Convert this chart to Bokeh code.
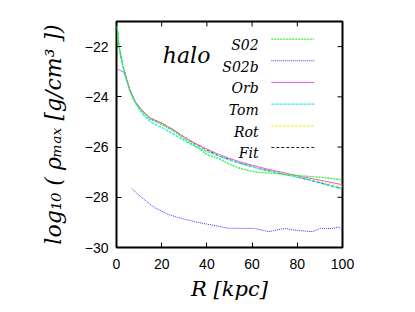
from bokeh.plotting import figure
from bokeh.models import FixedTicker, Label
from bokeh.embed import file_html
from bokeh.resources import INLINE

# ---------------- data ----------------
r_main = [0.3, 1, 2, 3, 4, 6, 8, 10, 12, 15, 20, 25, 30, 35, 40, 45, 50, 55, 60,
          65, 70, 75, 80, 85, 90, 95, 100]
fit_vals = [-21.2, -21.9, -22.4, -22.8, -23.15, -23.75, -24.15, -24.4, -24.6, -24.85,
            -25.05, -25.3, -25.62, -25.88, -26.12, -26.33, -26.5, -26.65, -26.78,
            -26.9, -27.0, -27.1, -27.2, -27.3, -27.42, -27.55, -27.67]
s02_vals = [-21.25, -21.95, -22.45, -22.85, -23.2, -23.8, -24.2, -24.45, -24.65, -24.9,
            -25.1, -25.35, -25.68, -25.95, -26.3, -26.45, -26.68, -26.86, -26.97,
            -27.02, -27.05, -27.1, -27.13, -27.17, -27.2, -27.25, -27.3]
tom_vals = [-21.2, -21.9, -22.4, -22.8, -23.15, -23.75, -24.15, -24.5, -24.72, -25.0,
            -25.22, -25.47, -25.75, -25.98, -26.18, -26.36, -26.52, -26.66, -26.79,
            -26.9, -27.0, -27.1, -27.2, -27.31, -27.42, -27.54, -27.66]
rot_vals = [-21.2, -21.9, -22.4, -22.8, -23.15, -23.75, -24.15, -24.4, -24.6, -24.85,
            -25.05, -25.3, -25.6, -25.86, -26.1, -26.31, -26.48, -26.63, -26.76,
            -26.88, -26.98, -27.08, -27.18, -27.28, -27.38, -27.48, -27.58]
r_orb = [0.7, 1.5, 3, 4, 6, 8, 10, 12, 15, 20, 25, 30, 35, 40, 45, 50, 55, 60,
         65, 70, 75, 80, 85, 90, 95, 100]
orb_vals = [-22.9, -22.95, -23.0, -23.17, -23.75, -24.15, -24.4, -24.6, -24.85,
            -25.05, -25.3, -25.6, -25.86, -26.08, -26.28, -26.45, -26.6, -26.72,
            -26.84, -26.94, -27.04, -27.14, -27.23, -27.32, -27.41, -27.5]
r_s02b = [6.8, 9, 13, 17, 22.5, 27, 31.4, 36, 40, 45, 49, 55, 60.7, 64, 67.4, 71,
          74.8, 78, 81.5, 84, 86.7, 90.4, 93, 96.3, 98.3, 100]
s02b_vals = [-27.65, -27.85, -28.14, -28.42, -28.67, -28.8, -28.9, -29.0, -29.07,
             -29.15, -29.23, -29.24, -29.24, -29.3, -29.37, -29.3, -29.24, -29.3,
             -29.33, -29.35, -29.37, -29.23, -29.25, -29.23, -29.18, -29.33]

x_ticks = [0, 20, 40, 60, 80, 100]
y_ticks = [-30, -28, -26, -24, -22]
legend_labels = ["S02", "S02b", "Orb", "Tom", "Rot", "Fit"]

# ---------------- styles ----------------
styles = {
    "S02": dict(color="#33ee33", dash="2 1", width=1.3),
    "S02b": dict(color="#3333ff", dash="1 1", width=1.0),
    "Orb": dict(color="#ee55ee", dash="solid", width=1.0),
    "Tom": dict(color="#22eeee", dash="3 1", width=1.3),
    "Rot": dict(color="#eeee00", dash="2 2", width=1.2),
    "Fit": dict(color="#222222", dash="3 2", width=1.0),
}
series = {
    "S02": (r_main, s02_vals),
    "S02b": (r_s02b, s02b_vals),
    "Orb": (r_orb, orb_vals),
    "Tom": (r_main, tom_vals),
    "Rot": (r_main, rot_vals),
    "Fit": (r_main, fit_vals),
}

serif = "DejaVu Serif"
sans = "Liberation Sans"

X0, X1, Y0, Y1 = 0, 100, -30, -21
FW, FH = 226, 226
p = figure(frame_width=FW, frame_height=FH, x_range=(X0, X1), y_range=(Y0, Y1),
           output_backend="svg", toolbar_location=None,
           min_border_left=116, min_border_right=57,
           min_border_top=21, min_border_bottom=56)
p.grid.visible = False
p.background_fill_color = "white"
p.border_fill_color = "white"
p.outline_line_color = "black"
p.outline_line_width = 2

for ax in (p.xaxis[0], p.yaxis[0]):
    ax.axis_line_color = None
    ax.major_tick_in = 5
    ax.major_tick_out = 0
    ax.minor_tick_line_color = None
    ax.major_label_text_font = sans
    ax.major_label_text_font_size = "14px"
    ax.major_label_text_color = "black"
    ax.axis_label_text_font = serif
    ax.axis_label_text_font_style = "italic"
    ax.axis_label_text_font_size = "21px"
    ax.axis_label_text_color = "black"

p.yaxis.axis_label_text_font_size = "22px"
p.xaxis.ticker = FixedTicker(ticks=x_ticks)
p.yaxis.ticker = FixedTicker(ticks=y_ticks)
p.xaxis.major_label_standoff = 11
p.yaxis.major_label_standoff = 8
p.xaxis.axis_label = "R [kpc]"
p.xaxis.axis_label_standoff = 5
p.yaxis.axis_label = "log\u2081\u2080 ( \u03c1\u2098\u2090\u2093 [g/cm\u00b3 ])"
p.yaxis.axis_label_standoff = 16

# mirrored inward ticks on the top and right edges (5 px long)
tick_dx = 5 * (X1 - X0) / FW
tick_dy = 5 * (Y1 - Y0) / FH
p.segment(x0=x_ticks, y0=[Y1] * len(x_ticks), x1=x_ticks,
          y1=[Y1 - tick_dy] * len(x_ticks), line_color="black", line_width=1)
p.segment(x0=[X1] * len(y_ticks), y0=y_ticks, x1=[X1 - tick_dx] * len(y_ticks),
          y1=y_ticks, line_color="black", line_width=1)

# curves
for name in ["Fit", "Rot", "Tom", "Orb", "S02b", "S02"]:
    xs, ys = series[name]
    st = styles[name]
    p.line(xs, ys, line_color=st["color"], line_dash=st["dash"], line_width=st["width"])

# "halo" label
p.add_layout(Label(x=20.5, y=-22.37, text="halo", text_font=serif,
                   text_font_style="italic", text_font_size="22px",
                   text_color="black", text_baseline="alphabetic"))

# legend (label right-aligned, then line sample), laid out in data units
leg_text_x = 62.9
leg_line_x0 = 68.5
leg_line_x1 = 87.5
leg_top_baseline = -21.93
leg_step = 0.8635
leg_line_raise = 0.23
for i, name in enumerate(legend_labels):
    yb = leg_top_baseline - i * leg_step
    p.add_layout(Label(x=leg_text_x, y=yb, text=name, text_font=serif,
                       text_font_style="italic", text_font_size="14px",
                       text_color="black", text_align="right",
                       text_baseline="alphabetic"))
    st = styles[name]
    p.line([leg_line_x0, leg_line_x1], [yb + leg_line_raise] * 2,
           line_color=st["color"], line_dash=st["dash"], line_width=st["width"])

open("out.html", "w").write(file_html(p, INLINE))
